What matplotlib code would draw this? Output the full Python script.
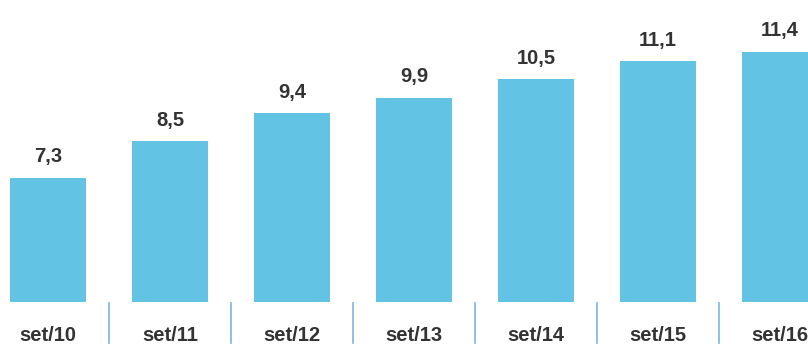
import matplotlib.pyplot as plt
import matplotlib.transforms as mtransforms

# taxa por mês de referência
meses = ['set/10', 'set/11', 'set/12', 'set/13', 'set/14', 'set/15', 'set/16']
valores = [7.3, 8.5, 9.4, 9.9, 10.5, 11.1, 11.4]

cor_barra = '#63C3E5'
cor_texto = '#333333'
cor_divisor = '#7DB4E3'

plt.rcParams['font.family'] = ['Liberation Sans', 'DejaVu Sans']

fig = plt.figure(figsize=(8.08, 3.45), dpi=100)
ax = fig.add_axes([0, 43 / 345, 1, 302 / 345])

x = list(range(len(meses)))
ax.bar(x, valores, width=0.623, color=cor_barra, bottom=0)

for xi, v in zip(x, valores):
    ax.annotate(f'{v:.1f}'.replace('.', ','), (xi, v), xytext=(0, 15),
                textcoords='offset points', ha='center', va='center',
                fontsize=14.5, fontweight='bold', color=cor_texto)

ax.set_xlim(-48 / 122, (808 - 48) / 122)
ax.set_ylim(3.26, 13.08)
ax.axis('off')

trans = mtransforms.blended_transform_factory(ax.transData, ax.transAxes)
for xi, mes in zip(x, meses):
    ax.text(xi, -0.11, mes, transform=trans, ha='center', va='center',
            fontsize=14.5, fontweight='bold', color=cor_texto, clip_on=False)

# divisores finos entre os meses
for xi in x[:-1]:
    ax.plot([xi + 0.5, xi + 0.5], [-0.003, -0.136], transform=trans,
            color=cor_divisor, linewidth=1.2, clip_on=False)

fig.savefig('out.png', dpi=100)
